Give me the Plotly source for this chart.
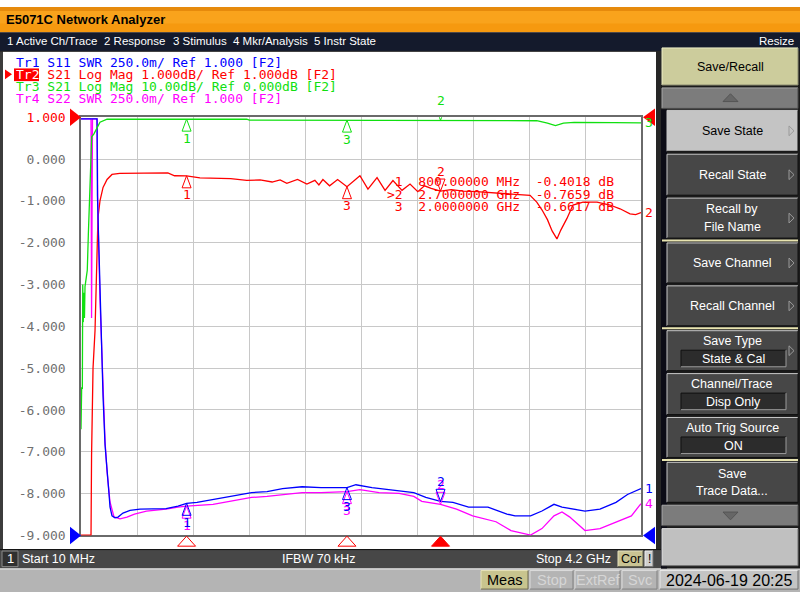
import numpy as np
import plotly.graph_objects as go

W, H = 800, 600

START_GHZ = 0.01
STOP_GHZ = 4.2
DIVISIONS = 10

# Tr2  S21 Log Mag, 1 dB/div, ref 1.000 dB (red)
F_S21 = [0.010, 0.085, 0.089, 0.100, 0.115, 0.126, 0.137, 0.152, 0.175, 0.205, 0.242, 0.300, 0.450,
         0.590, 0.660, 0.710, 0.800, 0.900, 1.030, 1.130, 1.250, 1.350, 1.440, 1.500, 1.550, 1.630,
         1.700, 1.760, 1.790, 1.820, 1.870, 1.930, 2.000, 2.097, 2.157, 2.225, 2.285, 2.344, 2.412,
         2.472, 2.530, 2.580, 2.630, 2.700, 2.780, 2.870, 2.970, 3.070, 3.170, 3.270, 3.370, 3.420,
         3.460, 3.500, 3.535, 3.571, 3.600, 3.646, 3.691, 3.766, 3.871, 3.968, 4.043, 4.118, 4.160, 4.200]
DB_S21 = [-8.99, -8.99, -7.10, -5.00, -4.10, -2.70, -1.40, -1.00, -0.68, -0.49, -0.37, -0.345, -0.345,
          -0.345, -0.33, -0.40, -0.402, -0.45, -0.47, -0.47, -0.51, -0.50, -0.55, -0.50, -0.58, -0.49,
          -0.60, -0.51, -0.62, -0.49, -0.64, -0.49, -0.662, -0.40, -0.72, -0.445, -0.75, -0.515, -0.75,
          -0.60, -0.78, -0.64, -0.70, -0.766, -0.73, -0.77, -0.78, -0.80, -0.83, -0.84, -0.87, -1.03,
          -1.22, -1.45, -1.72, -1.91, -1.70, -1.42, -1.10, -1.03, -1.03, -1.10, -1.19, -1.31, -1.33, -1.28]

# Tr3  S21 Log Mag, 10 dB/div, ref 0.000 dB (green)
F_S21W = [0.010, 0.015, 0.020, 0.023, 0.027, 0.031, 0.036, 0.040, 0.050, 0.057, 0.065, 0.072, 0.083,
          0.090, 0.107, 0.127, 0.152, 0.205, 0.800, 1.250, 1.270, 2.000, 2.700, 3.000, 3.420, 3.500,
          3.560, 3.620, 3.700, 4.000, 4.200]
DB_S21W = [-74.6, -64.6, -65.0, -40.0, -49.0, -42.0, -48.0, -40.5, -38.0, -36.6, -28.0, -21.0, -14.9,
           -4.7, -4.0, -2.8, -1.2, -0.5, -0.47, -0.47, -0.70, -0.70, -0.75, -0.80, -0.85, -1.45,
           -2.0, -1.4, -1.25, -1.3, -1.35]

# Tr1  S11 SWR, 250 m/div, ref 1.000 (blue)
F_S11 = [0.010, 0.130, 0.133, 0.152, 0.175, 0.190, 0.205, 0.220, 0.227, 0.242, 0.264, 0.287, 0.324,
         0.377, 0.451, 0.646, 0.736, 0.800, 0.878, 0.998, 1.140, 1.286, 1.402, 1.518, 1.664, 1.806,
         2.000, 2.067, 2.187, 2.329, 2.500, 2.590, 2.700, 2.793, 2.910, 3.055, 3.197, 3.257, 3.374,
         3.459, 3.549, 3.609, 3.721, 3.781, 3.893, 4.013, 4.099, 4.185, 4.200]
SWR_S11 = [3.490, 3.490, 3.030, 2.410, 1.830, 1.540, 1.360, 1.245, 1.170, 1.117, 1.105, 1.110, 1.134,
           1.150, 1.157, 1.160, 1.175, 1.192, 1.198, 1.216, 1.233, 1.256, 1.262, 1.280, 1.291, 1.286,
           1.286, 1.303, 1.286, 1.274, 1.256, 1.227, 1.204, 1.198, 1.169, 1.169, 1.128, 1.117, 1.117,
           1.146, 1.186, 1.169, 1.152, 1.146, 1.157, 1.198, 1.245, 1.274, 1.280]

# Tr4  S22 SWR, 250 m/div, ref 1.000 (magenta)
F_S22 = [0.010, 0.085, 0.089, 0.096, 0.130, 0.137, 0.152, 0.175, 0.190, 0.205, 0.227, 0.257, 0.302,
         0.354, 0.410, 0.500, 0.646, 0.736, 0.800, 0.998, 1.140, 1.286, 1.402, 1.518, 1.664, 1.806,
         2.000, 2.097, 2.240, 2.390, 2.500, 2.560, 2.700, 2.820, 2.940, 3.115, 3.227, 3.374, 3.459,
         3.549, 3.609, 3.665, 3.781, 3.893, 4.013, 4.128, 4.185, 4.200]
SWR_S22 = [3.49, 3.49, 2.30, 3.49, 3.49, 2.90, 2.41, 1.85, 1.56, 1.38, 1.20, 1.111, 1.099,
           1.110, 1.128, 1.146, 1.157, 1.169, 1.175, 1.186, 1.204, 1.227, 1.233, 1.245, 1.256, 1.256,
           1.262, 1.274, 1.256, 1.251, 1.233, 1.204, 1.186, 1.157, 1.117, 1.082, 1.029, 1.002, 1.041,
           1.117, 1.140, 1.111, 1.029, 1.041, 1.082, 1.117, 1.175, 1.190]

Y_TICKS = [1, 0, -1, -2, -3, -4, -5, -6, -7, -8, -9]
SWR_RANGE = [1.0, 3.5]
WIDE_RANGE = [-100.0, 0.0]

MARKER_IDS = ["1", "2", "3"]
MARKER_FREQ = [0.8, 2.7, 2.0]
MARKER_FREQ_TEXT = ["800.00000 MHz", "2.7000000 GHz", "2.0000000 GHz"]
MARKER_DB = [-0.4018, -0.7659, -0.6617]
ACTIVE_MARKER = "2"

TRACE_HEADERS = ["Tr1 S11 SWR 250.0m/ Ref 1.000 [F2]",
                 "Tr2 S21 Log Mag 1.000dB/ Ref 1.000dB [F2]",
                 "Tr3 S21 Log Mag 10.00dB/ Ref 0.000dB [F2]",
                 "Tr4 S22 SWR 250.0m/ Ref 1.000 [F2]"]
MENU_ITEMS = ["1 Active Ch/Trace", "2 Response", "3 Stimulus", "4 Mkr/Analysis", "5 Instr State"]

BLUE, RED, GREEN, MAG = "#0000ff", "#ff0000", "#10e010", "#ff00ff"

# ---------------- geometry ----------------
PL, PR, PT, PB = 81, 641, 113, 542

shapes, annotations = [], []


def P(x, y):
    return f"{x / W:.5f},{1 - y / H:.5f}"


def rect(x0, y0, x1, y1, fill, line=None, lw=1, layer="above"):
    shapes.append(dict(type="rect", xref="paper", yref="paper", x0=x0 / W, x1=x1 / W,
                       y0=1 - y1 / H, y1=1 - y0 / H, fillcolor=fill, layer=layer,
                       line=dict(width=lw if line else 0, color=line or "rgba(0,0,0,0)")))


def seg(x0, y0, x1, y1, color, lw=1):
    shapes.append(dict(type="line", xref="paper", yref="paper", x0=x0 / W, x1=x1 / W,
                       y0=1 - y0 / H, y1=1 - y1 / H, line=dict(width=lw, color=color)))


def poly(pts, fill, line=None, lw=1):
    path = "M" + " L".join(P(x, y) for x, y in pts) + " Z"
    shapes.append(dict(type="path", xref="paper", yref="paper", path=path, fillcolor=fill,
                       line=dict(width=lw if line else 0, color=line or "rgba(0,0,0,0)")))


def text(x, y, s, size=12, color="white", family="Liberation Sans", xanchor="left", bg=None):
    annotations.append(dict(xref="paper", yref="paper", x=x / W, y=1 - y / H, text=s,
                            showarrow=False, xanchor=xanchor, yanchor="middle", borderpad=0,
                            bgcolor=bg, font=dict(family=family, size=size, color=color)))


def bevel(x0, y0, x1, y1, fill, hi="#d0d0d0", lo="#1a1a1a"):
    rect(x0, y0, x1, y1, fill)
    seg(x0, y0, x1, y0, hi)
    seg(x0, y0, x0, y1, hi)
    seg(x0, y1, x1, y1, lo)
    seg(x1, y0, x1, y1, lo)


fig = go.Figure()

# ---------------- traces ----------------
fig.add_trace(go.Scatter(x=F_S21W, y=DB_S21W, yaxis="y3", mode="lines",
                         line=dict(color=GREEN, width=1.3), hoverinfo="skip"))
fig.add_trace(go.Scatter(x=F_S22, y=SWR_S22, yaxis="y2", mode="lines",
                         line=dict(color=MAG, width=1.3), hoverinfo="skip"))
fig.add_trace(go.Scatter(x=F_S11, y=SWR_S11, yaxis="y2", mode="lines",
                         line=dict(color=BLUE, width=1.3), hoverinfo="skip"))
fig.add_trace(go.Scatter(x=F_S21, y=DB_S21, yaxis="y", mode="lines",
                         line=dict(color=RED, width=1.3), hoverinfo="skip"))

MONO = "DejaVu Sans Mono"

# markers on each trace
for F, V, yref, col, tid in [(F_S21W, DB_S21W, "y3", GREEN, "3"), (F_S22, SWR_S22, "y2", MAG, "4"),
                             (F_S11, SWR_S11, "y2", BLUE, "1"), (F_S21, DB_S21, "y", RED, "2")]:
    for mid, mf in zip(MARKER_IDS, MARKER_FREQ):
        v = float(np.interp(mf, F, V))
        active = mid == ACTIVE_MARKER
        path = "M0,0 L-4.5,12 L4.5,12 Z" if active else "M0,0 L-4.5,-12 L4.5,-12 Z"
        shapes.append(dict(type="path", xref="x", yref=yref, xsizemode="pixel", ysizemode="pixel",
                           xanchor=mf, yanchor=v, path=path, fillcolor="rgba(0,0,0,0)",
                           line=dict(color=col, width=1)))
        annotations.append(dict(xref="x", yref=yref, x=mf, y=v, text=mid, showarrow=False,
                                yshift=20 if active else -19, xanchor="center", yanchor="middle",
                                font=dict(family=MONO, size=13, color=col)))
    # trace number at right end
    annotations.append(dict(xref="x", yref=yref, x=F[-1], y=V[-1], text=tid, showarrow=False,
                            xanchor="left", yanchor="middle", xshift=2,
                            font=dict(family=MONO, size=13, color=col)))

# marker readout
for i, (mid, ft, db) in enumerate(zip(MARKER_IDS, MARKER_FREQ_TEXT, MARKER_DB)):
    pre = ">" if mid == ACTIVE_MARKER else "\u00a0"
    line = f"{pre}{mid}\u00a0\u00a0{ft}\u00a0\u00a0{db:.4f}\u00a0dB"
    text(386, 179 + 13 * i, line, size=13, color=RED, family=MONO)

# bottom marker indicators
for mid, mf in zip(MARKER_IDS, MARKER_FREQ):
    active = mid == ACTIVE_MARKER
    shapes.append(dict(type="path", xref="x", yref="paper", xsizemode="pixel", ysizemode="pixel",
                       xanchor=mf, yanchor=1 - 553 / H, path="M-9,0 L9,0 L0,10 Z",
                       fillcolor=RED if active else "rgba(0,0,0,0)", line=dict(color=RED, width=1)))

# reference level triangles
poly([(70, 104), (81, 113), (70, 122)], RED)
poly([(70, 533), (81, 542), (70, 551)], BLUE)
poly([(655, 104), (643, 113), (655, 122)], RED)
poly([(655, 533), (643, 542), (655, 551)], BLUE)

# ---------------- frame / chrome ----------------
# title bar
rect(0, 0, 800, 26, "#f9a31c")
rect(0, 0, 800, 4, "#e68a0c")
rect(0, 17, 800, 26, "#f6990f")
text(5, 13, "<b>E5071C Network Analyzer</b>", size=13, color="black")
# menu bar
rect(0, 26, 800, 45, "#141a2c")
for s, x in zip(MENU_ITEMS, [6, 103, 172, 232, 313]):
    text(x, 35, s, size=11.5, color="white")
text(795, 35, "Resize", size=11.5, color="white", xanchor="right")

# main area borders
rect(0, 45, 3, 557, "#3c3c3c")
rect(656, 45, 661, 557, "#262626")
seg(0, 45.5, 661, 45.5, "#262626")

# trace header lines
for i, (s, c) in enumerate(zip(TRACE_HEADERS, [BLUE, RED, GREEN, MAG])):
    text(15, 57 + 12.2 * i, s, size=13, color=c, family=MONO)
rect(14, 63, 39, 76, RED)
text(15, 69.2, "Tr2", size=13, color="white", family=MONO)
poly([(5, 64), (12, 69), (5, 74)], RED)

# status bar
rect(0, 556, 661, 576, "#474747")
seg(0, 556.5, 661, 556.5, "#111111")
bevel(2, 558, 18, 574, "#303030", hi="#8a8a8a", lo="#8a8a8a")
text(10, 566, "1", size=13, color="white", xanchor="center")
text(21, 566, "Start 10 MHz", size=12.5)
text(281, 566, "IFBW 70 kHz", size=12.5)
text(612, 566, "Stop 4.2 GHz", size=12.5, xanchor="right")
bevel(618, 558, 643, 574, "#c9c393", hi="#e8e4c0", lo="#5a5a4a")
text(630.5, 566, "Cor", size=12.5, color="black", xanchor="center")
bevel(645, 558, 653, 574, "#d0d0d0", hi="#f0f0f0", lo="#707070")
text(649, 566, "!", size=12, color="black", xanchor="center")

# bottom bar
rect(0, 576, 800, 600, "#b4b4b4")
seg(0, 576.5, 800, 576.5, "#e0e0e0")
bevel(481, 578, 528, 597, "#c8c48e", hi="#e6e2b8", lo="#6e6a50")
text(504.5, 588, "Meas", size=14.5, color="black", xanchor="center")
for s, x0, x1 in [("Stop", 530, 573), ("ExtRef", 575, 620), ("Svc", 622, 657)]:
    bevel(x0, 578, x1, 597, "#b4b4b4", hi="#dcdcdc", lo="#808080")
    text((x0 + x1) / 2, 588, s, size=14.5, color="#d6d6d6", xanchor="center")

# soft-key panel
rect(661, 45, 800, 576, "#1c1c1c")
rect(661, 105, 667, 576, "#0c0c16")
bevel(662, 42, 798, 80, "#cccc9c", hi="#f0f0c8", lo="#8a8a70")
text(730, 62, "Save/Recall", size=12.5, color="black", xanchor="center")
bevel(662, 83, 798, 104, "#7c7c7c", hi="#a8a8a8", lo="#4a4a4a")
poly([(723, 97), (730.5, 89), (738, 97)], "#666666", line="#555555")

BTN_ARROW = "#9a9a9a"


def softkey(y0, y1, lines, fill="#474747", tcol="white", arrow=True, sub=None):
    bevel(667, y0, 798, y1, fill, hi="#c8c8c8", lo="#101010")
    cy = (y0 + y1) / 2
    if sub is None:
        n = len(lines)
        for k, s in enumerate(lines):
            text(732, cy + (k - (n - 1) / 2) * 18, s, size=12.5, color=tcol, xanchor="center")
    else:
        text(732, y0 + 11, lines[0], size=12.5, color=tcol, xanchor="center")
        bevel(681, y0 + 20, 786, y0 + 37, "#2c2c2c", hi="#101010", lo="#9a9a9a")
        text(733, y0 + 29, sub, size=12.5, color="white", xanchor="center")
    if arrow:
        poly([(789, cy - 5), (794, cy), (789, cy + 5)], "rgba(0,0,0,0)", line=BTN_ARROW)


softkey(106, 148, ["Save State"], fill="#c4c4c4", tcol="black")
softkey(151, 193, ["Recall State"])
softkey(196, 237, ["Recall by", "File Name"])
seg(662, 239.5, 798, 239.5, "#e8e4b0", 2)
softkey(242, 283, ["Save Channel"])
softkey(286, 327, ["Recall Channel"])
seg(662, 329.5, 798, 329.5, "#e8e4b0", 2)
softkey(332, 373, ["Save Type"], sub="State & Cal")
softkey(376, 418, ["Channel/Trace"], arrow=False, sub="Disp Only")
softkey(421, 462, ["Auto Trig Source"], arrow=False, sub="ON")
seg(662, 464.5, 798, 464.5, "#e8e4b0", 2)
softkey(467, 508, ["Save", "Trace Data..."], arrow=False)
bevel(662, 511, 798, 532, "#7c7c7c", hi="#a8a8a8", lo="#4a4a4a")
poly([(723, 518), (730.5, 526), (738, 518)], "#666666", line="#555555")
bevel(662, 535, 798, 573, "#c0c0c0", hi="#e0e0e0", lo="#707070")
bevel(660, 578, 798, 597, "#c4c4c4", hi="#e8e8e8", lo="#707070")
text(729, 588, "2024-06-19 20:25", size=16, color="black", xanchor="center")

# ---------------- axes ----------------
ticktext = [(f'<span style="color:{RED}">{v:.3f}</span>' if v == Y_TICKS[0] else f"{v:.3f}")
            for v in Y_TICKS]

fig.update_layout(
    width=W, height=H, margin=dict(l=0, r=0, t=0, b=0, pad=0),
    paper_bgcolor="white", plot_bgcolor="white", showlegend=False,
    xaxis=dict(domain=[PL / W, PR / W], range=[START_GHZ, STOP_GHZ], tick0=START_GHZ,
               dtick=(STOP_GHZ - START_GHZ) / DIVISIONS, showticklabels=False, ticks="",
               showgrid=True, gridcolor="#c8c8c8", gridwidth=1, zeroline=False,
               showline=True, mirror=True, linecolor="#6a6a6a", linewidth=1.5,
               layer="below traces", fixedrange=True),
    yaxis=dict(domain=[1 - PB / H, 1 - PT / H], range=[Y_TICKS[-1], Y_TICKS[0]],
               tickmode="array", tickvals=Y_TICKS, ticktext=ticktext,
               tickfont=dict(family=MONO, size=13, color="#707070"),
               ticks="outside", ticklen=11, tickcolor="rgba(0,0,0,0)",
               showgrid=True, gridcolor="#c8c8c8", gridwidth=1, zeroline=False,
               showline=True, mirror=True, linecolor="#6a6a6a", linewidth=1.5,
               layer="below traces", fixedrange=True),
    yaxis2=dict(overlaying="y", range=SWR_RANGE, visible=False, fixedrange=True),
    yaxis3=dict(overlaying="y", range=WIDE_RANGE, visible=False, fixedrange=True),
    shapes=shapes, annotations=annotations,
)

fig.write_html("out.html", config={"displayModeBar": False},
               post_script="document.body.style.margin='0';document.body.style.overflow='hidden';")
